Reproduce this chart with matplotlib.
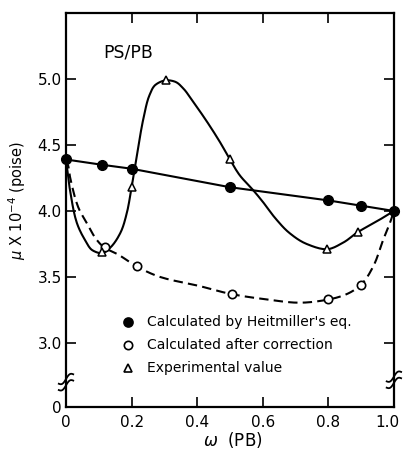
import numpy as np
import matplotlib
matplotlib.use('Agg')
import matplotlib.pyplot as plt
import matplotlib.transforms as mtransforms

# Heitmiller's eq. (filled circles)
heit_x = [0.0, 0.11, 0.2, 0.5, 0.8, 0.9, 1.0]
heit_y = [4.39, 4.35, 4.32, 4.18, 4.08, 4.04, 4.00]

# after correction (open circles)
corr_x = [0.12, 0.215, 0.505, 0.80, 0.90]
corr_y = [3.73, 3.58, 3.37, 3.33, 3.44]
corr_curve_x = [0.0, 0.007, 0.012, 0.037, 0.063, 0.094, 0.119, 0.159, 0.216, 0.287,
                0.409, 0.505, 0.612, 0.713, 0.802, 0.856, 0.899, 0.937, 0.967, 0.988, 1.0]
corr_curve_y = [4.39, 4.34, 4.26, 4.03, 3.91, 3.78, 3.72, 3.67, 3.58, 3.50,
                3.43, 3.37, 3.33, 3.305, 3.33, 3.37, 3.44, 3.58, 3.78, 3.91, 4.00]

# experimental (triangles)
exp_x = [0.11, 0.2, 0.305, 0.5, 0.795, 0.89]
exp_y = [3.69, 4.18, 4.99, 4.39, 3.71, 3.84]
exp_curve_x = [0.0, 0.004, 0.012, 0.033, 0.058, 0.082, 0.109, 0.134, 0.165, 0.185,
               0.200, 0.216, 0.236, 0.255, 0.275, 0.305, 0.332, 0.357,
               0.387, 0.429, 0.470, 0.500, 0.530, 0.570, 0.600, 0.640, 0.683, 0.734,
               0.795, 0.845, 0.890, 0.947, 1.0]
exp_curve_y = [4.39, 4.31, 4.16, 3.91, 3.78, 3.70, 3.68, 3.72, 3.83, 3.98,
               4.18, 4.42, 4.70, 4.88, 4.96, 4.99, 4.98, 4.93,
               4.83, 4.68, 4.52, 4.39, 4.27, 4.16, 4.07, 3.94, 3.83, 3.75,
               3.71, 3.76, 3.84, 3.92, 4.00]

y_bottom = 2.515
ytick_vals = [y_bottom, 3.0, 3.5, 4.0, 4.5, 5.0]
ytick_labels = ['0', '3.0', '3.5', '4.0', '4.5', '5.0']
xtick_vals = [0, 0.2, 0.4, 0.6, 0.8, 1.0]
xtick_labels = ['0', '0.2', '0.4', '0.6', '0.8', '1.0']


def smooth(xs, ys, n=12):
    # centripetal catmull-rom through the read points, just for drawing
    p = np.column_stack([xs, ys]).astype(float)
    p = np.vstack([2 * p[0] - p[1], p, 2 * p[-1] - p[-2]])
    out = []
    for i in range(1, len(p) - 2):
        p0, p1, p2, p3 = p[i - 1], p[i], p[i + 1], p[i + 2]
        t0 = 0.0
        t1 = t0 + np.linalg.norm(p1 - p0) ** 0.5
        t2 = t1 + np.linalg.norm(p2 - p1) ** 0.5
        t3 = t2 + np.linalg.norm(p3 - p2) ** 0.5
        t = np.linspace(t1, t2, n)[:, None]
        a1 = (t1 - t) / (t1 - t0) * p0 + (t - t0) / (t1 - t0) * p1
        a2 = (t2 - t) / (t2 - t1) * p1 + (t - t1) / (t2 - t1) * p2
        a3 = (t3 - t) / (t3 - t2) * p2 + (t - t2) / (t3 - t2) * p3
        b1 = (t2 - t) / (t2 - t0) * a1 + (t - t0) / (t2 - t0) * a2
        b2 = (t3 - t) / (t3 - t1) * a2 + (t - t1) / (t3 - t1) * a3
        c = (t2 - t) / (t2 - t1) * b1 + (t - t1) / (t2 - t1) * b2
        out.append(c if i == 1 else c[1:])
    out = np.vstack(out)
    return out[:, 0], out[:, 1]


fig = plt.figure(figsize=(4.04, 4.51), dpi=100)
ax = fig.add_axes([0.1634, 0.0976, 0.8116, 0.8736])

lw = 1.5
ax.plot(heit_x, heit_y, color='black', lw=lw, zorder=2)
cx, cy = smooth(corr_curve_x, corr_curve_y)
ax.plot(cx, cy, color='black', lw=lw, ls=(0, (4.5, 2.5)), zorder=2)
ex, ey = smooth(exp_curve_x, exp_curve_y)
ax.plot(ex, ey, color='black', lw=lw, zorder=2)

ax.plot(corr_x, corr_y, 'o', ms=6, mfc='white', mec='black', mew=1.2, ls='none', zorder=3)
ax.plot(exp_x, exp_y, '^', ms=6, mfc='white', mec='black', mew=1.1, ls='none', zorder=3)
ax.plot(heit_x, heit_y, 'o', ms=7, color='black', ls='none', zorder=4, clip_on=False)

ax.set_xlim(0, 1.0)
ax.set_ylim(y_bottom, 5.5)
ax.set_xticks(xtick_vals)
ax.set_xticklabels(xtick_labels)
ax.set_yticks(ytick_vals)
ax.set_yticklabels(ytick_labels)
ax.tick_params(direction='in', length=7, width=1.2, labelsize=11, top=True, right=True)
ax.tick_params(axis='x', pad=6)
ax.tick_params(axis='y', pad=3)
for s in ax.spines.values():
    s.set_linewidth(1.6)

# nudge the "1.0" label so it stays inside the figure
last = ax.get_xticklabels()[-1]
last.set_transform(last.get_transform() + mtransforms.ScaledTranslation(-5 / 72, 0, fig.dpi_scale_trans))

# legend drawn as text inside the plot
leg_rows = [('o', 'black', 'Calculated by Heitmiller\'s eq.'),
            ('o', 'white', 'Calculated after correction'),
            ('^', 'white', 'Experimental value')]
for i, (m, fc, label) in enumerate(leg_rows):
    yy = 0.216 - i * 0.0585
    ax.plot([0.189], [yy], m, ms=6.5 if fc == 'black' else 6, mfc=fc, mec='black',
            mew=1.2, transform=ax.transAxes)
    ax.text(0.248, yy, label, transform=ax.transAxes, fontsize=10, va='center', ha='left')

ax.text(0.115, 0.9, 'PS/PB', transform=ax.transAxes, fontsize=12.5, va='center')

ax.set_ylabel(r'$\mu$ X 10$^{-4}$ (poise)', fontsize=10.5)
ax.yaxis.set_label_coords(-0.115, 0.525)
ax.set_xlabel(r'$\omega$  (PB)', fontsize=12)
ax.xaxis.set_label_coords(0.51, -0.058)

# axis break marks
t = np.linspace(-1, 1, 30)
for xb, yb in [(0.0, 0.063), (1.0, 0.069)]:
    for dy in (-0.008, 0.008):
        bx = xb + t * 0.022
        by = yb + dy + 0.006 * np.sin(t * np.pi) + t * 0.012
        ax.plot(bx, by, color='black', lw=1.3, transform=ax.transAxes, clip_on=False)

fig.savefig('out.png', dpi=100)
